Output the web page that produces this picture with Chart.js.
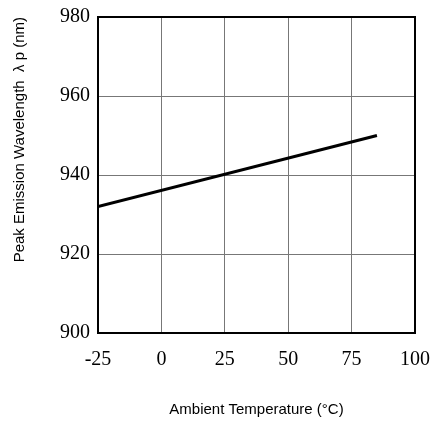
<!DOCTYPE html>
<html>
<head>
<meta charset="utf-8">
<script src="https://cdn.jsdelivr.net/npm/chart.js@4"></script>
<style>
  html, body { margin: 0; padding: 0; background: #fff; }
  #wrap { width: 430px; height: 423px; }
</style>
</head>
<body>
<div id="wrap"><canvas id="lineChart" width="430" height="423"></canvas></div>
<script>
// data
let temps = [-25, 85];
let wavelengths = [932, 950];
let xTicks = [-25, 0, 25, 50, 75, 100];
let yTicks = [900, 920, 940, 960, 980];

let points = temps.map((t, i) => ({ x: t, y: wavelengths[i] }));

// draws the black frame round the plot
const frame = {
    id: "frame",
    afterDatasetsDraw(chart) {
        let a = chart.chartArea;
        let ctx = chart.ctx;
        ctx.save();
        ctx.strokeStyle = "#000";
        ctx.lineWidth = 2;
        ctx.strokeRect(a.left, a.top, a.right - a.left, a.bottom - a.top);
        ctx.restore();
    }
};

let tickFont = { family: "'Liberation Serif', 'Times New Roman', serif", size: 20 };
let titleFont = { family: "'Liberation Sans', Arial, sans-serif", size: 15 };

document.addEventListener("DOMContentLoaded", function () {
    let ctx = document.getElementById("lineChart").getContext("2d");

    new Chart(ctx, {
        type: "line",
        data: {
            datasets: [{
                data: points,
                borderColor: "#000",
                borderWidth: 3,
                pointRadius: 0,
                fill: false
            }]
        },
        options: {
            responsive: false,
            animation: false,
            layout: { padding: { top: 17, right: 15, left: 0, bottom: 0 } },
            plugins: { legend: { display: false }, tooltip: { enabled: false } },
            scales: {
                x: {
                    type: "linear",
                    min: -25,
                    max: 100,
                    afterBuildTicks: s => { s.ticks = xTicks.map(v => ({ value: v })); },
                    afterFit: s => { s.height = 90; s.paddingLeft = 0; s.paddingRight = 0; },
                    grid: { color: "#777", lineWidth: 1, drawTicks: false },
                    border: { display: false },
                    ticks: { color: "#000", font: tickFont, padding: 15, maxRotation: 0 },
                    title: {
                        display: true,
                        text: "Ambient Temperature (°C)",
                        color: "#000",
                        font: titleFont,
                        padding: { top: 0, bottom: 4 }
                    }
                },
                y: {
                    min: 900,
                    max: 980,
                    afterBuildTicks: s => { s.ticks = yTicks.map(v => ({ value: v })); },
                    afterFit: s => { s.width = 98; s.paddingTop = 0; s.paddingBottom = 0; },
                    grid: { color: "#777", lineWidth: 1, drawTicks: false },
                    border: { display: false },
                    ticks: { color: "#000", font: tickFont, padding: 8 },
                    title: {
                        display: true,
                        text: "Peak Emission Wavelength  λ p (nm)",
                        align: "end",
                        color: "#000",
                        font: titleFont,
                        padding: { top: 11, bottom: 0 }
                    }
                }
            }
        },
        plugins: [frame]
    });
});
</script>
</body>
</html>
